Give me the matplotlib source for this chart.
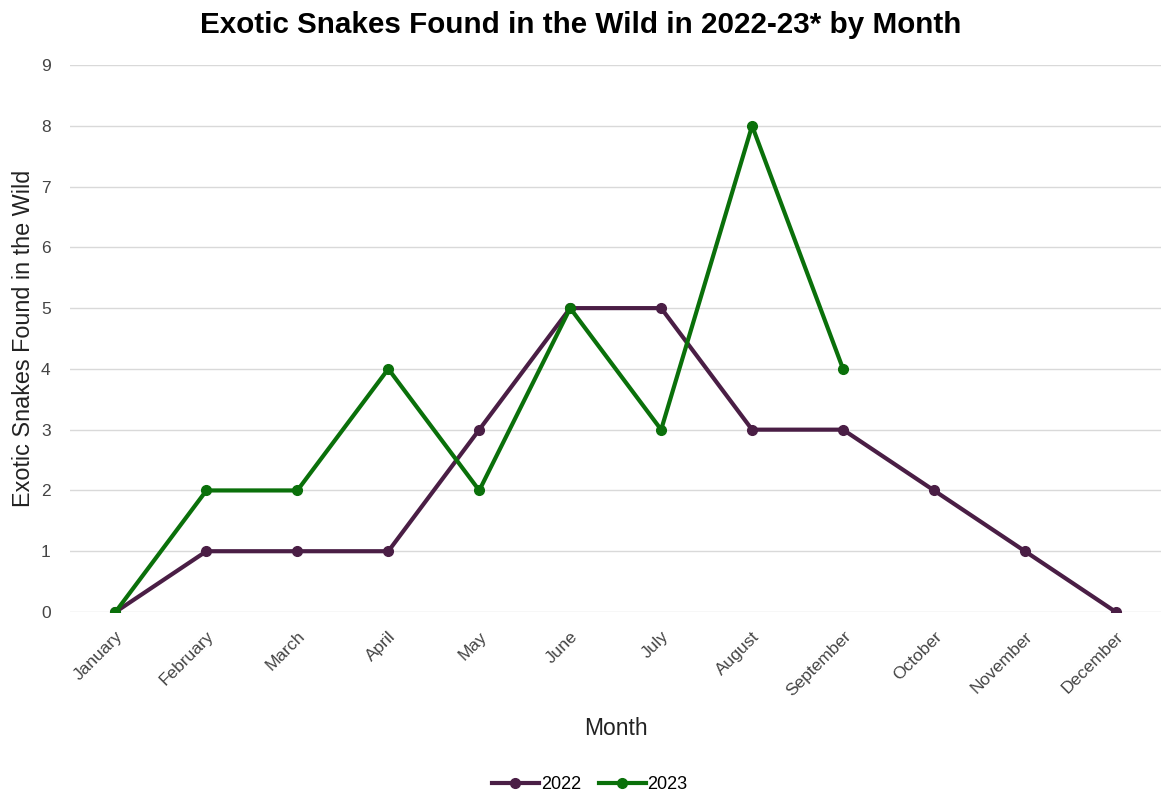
import numpy as np
import matplotlib.pyplot as plt

months = ['January', 'February', 'March', 'April', 'May', 'June', 'July',
          'August', 'September', 'October', 'November', 'December']
snakes_2022 = [0, 1, 1, 1, 3, 5, 5, 3, 3, 2, 1, 0]
snakes_2023 = [0, 2, 2, 4, 2, 5, 3, 8, 4]

plt.rcParams['font.family'] = ['Liberation Sans', 'DejaVu Sans']

fig = plt.figure(figsize=(11.61, 7.91), dpi=100)
ax = fig.add_axes([0.0603, 0.2263, 0.94, 0.6915])

x = np.arange(len(months))
ax.plot(x, snakes_2022, color='#4a1e45', lw=3, marker='o', ms=7, label='2022')
ax.plot(x[:len(snakes_2023)], snakes_2023, color='#0a700a', lw=3, marker='o', ms=7, label='2023')

ax.set_xlim(-0.5, 11.5)
ax.set_ylim(0, 9)
ax.set_yticks(range(10))
ax.grid(axis='y', color='#d9d9d9', lw=1)
ax.set_axisbelow(True)
for s in ax.spines.values():
    s.set_visible(False)
ax.tick_params(length=0, labelsize=12.5, colors='#444444')
ax.tick_params(axis='y', pad=14)
ax.tick_params(axis='x', pad=12)
ax.set_xticks(x)
ax.set_xticklabels(months, rotation=45, ha='right', rotation_mode='anchor')

ax.set_xlabel('Month', fontsize=16.5, color='#222222', labelpad=13)
ax.set_ylabel('Exotic Snakes Found in the Wild', fontsize=16.8, color='#222222', labelpad=4)
fig.text(0.5, 0.968, 'Exotic Snakes Found in the Wild in 2022-23* by Month',
         fontsize=21.3, fontweight='bold', ha='center', va='center')

fig.legend(loc='center', bbox_to_anchor=(0.508, 0.008), ncol=2, frameon=False,
           fontsize=13, handlelength=2.6, columnspacing=1.0, handletextpad=0.1)

fig.savefig('out.png', dpi=100)
